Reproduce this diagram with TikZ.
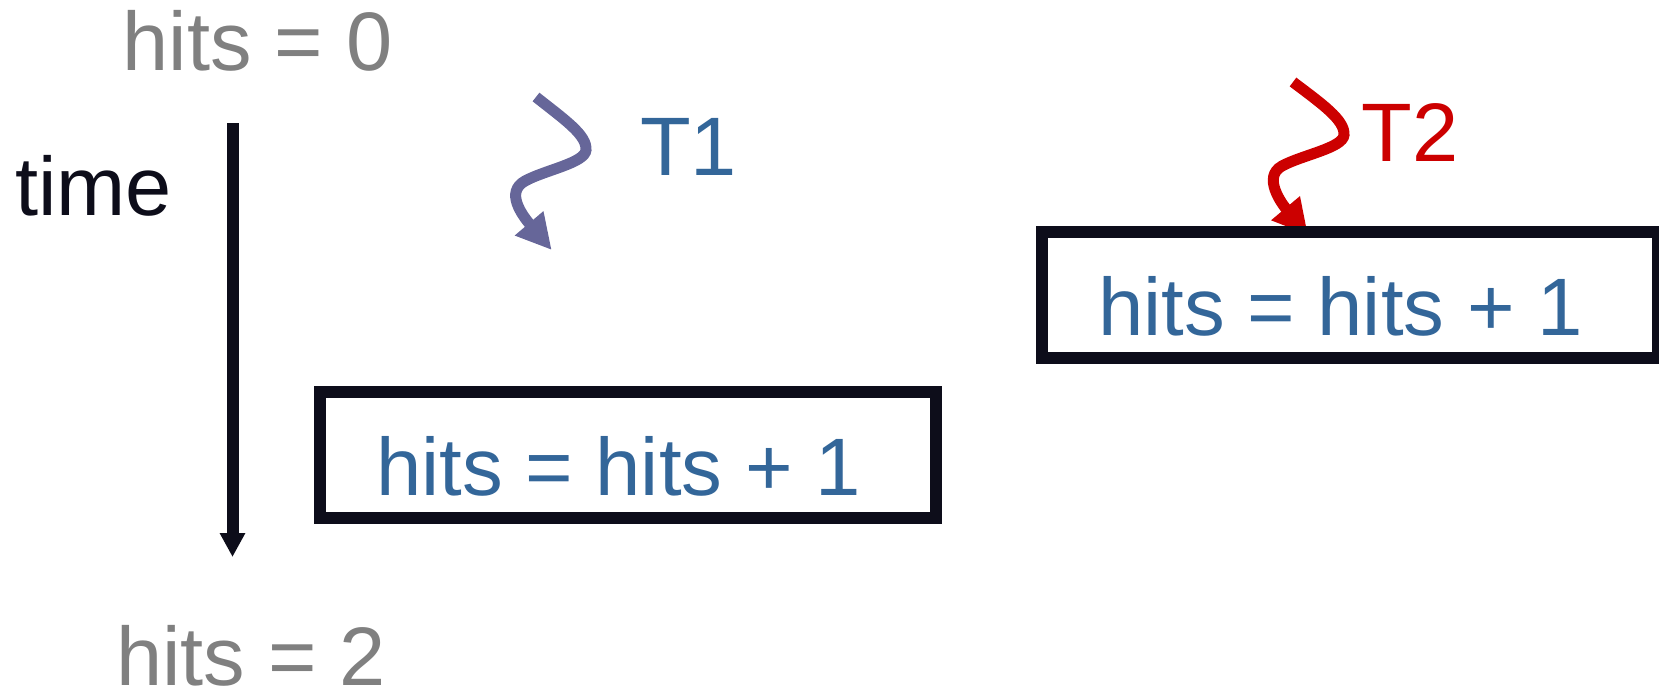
\documentclass[tikz,border=0pt]{standalone}
\usepackage{fontspec}
\setmainfont{Liberation Sans}
\usetikzlibrary{arrows.meta}
\definecolor{grayt}{HTML}{808080}
\definecolor{bluet}{HTML}{336699}
\definecolor{purplea}{HTML}{666699}
\definecolor{redt}{HTML}{CC0000}
\definecolor{inkdark}{HTML}{0D0D1A}
\begin{document}
\begin{tikzpicture}[x=1pt,y=-1pt,
  lbl/.style={anchor=base west,inner sep=0pt,outer sep=0pt,font=\fontsize{83}{90}\selectfont},
  codetxt/.style={lbl,text=bluet,font=\fontsize{81.5}{90}\selectfont},
  codebox/.style={draw=inkdark,line width=12pt,inner sep=0pt,outer sep=0pt,minimum width=616pt,minimum height=126pt},
  timearrow/.style={draw=inkdark,line width=12pt,-{Triangle[width=24pt,length=24pt]}},
  thread/.style={line width=11pt,-{Triangle[width=35pt,length=35pt]}}]
\useasboundingbox (0,0) rectangle (1659,688);
% labels
\node[lbl,text=grayt] (h0) at (122.6,70.7) {hits = 0};
\node[lbl,text=grayt] (h2) at (116,685) {hits = 2};
\node[lbl,text=inkdark] (time) at (15,215) {time};
\node[lbl,text=bluet] (t1) at (640,175) {T1};
\node[lbl,text=redt] (t2) at (1361.6,161) {T2};
% time arrow
\coordinate (ttop) at (232.5,123);
\coordinate (tbot) at (232.5,557);
\draw[timearrow] (ttop) -- (tbot);
% thread arrows
\coordinate (a1s) at (536,97);
\coordinate (a1e) at (551.7,250);
\draw[thread,draw=purplea] (a1s) .. controls (565,120) and (587,135) .. (586,150)
  .. controls (585,163) and (545,170) .. (525,181)
  .. controls (505,192) and (522,215) .. (a1e);
\coordinate (a2s) at (1293,82);
\coordinate (a2e) at (1308,235);
\draw[thread,draw=redt] (a2s) .. controls (1322,104) and (1345,120) .. (1344,135)
  .. controls (1343,148) and (1302,155) .. (1282,166)
  .. controls (1262,177) and (1282,204) .. (a2e);
% boxes
\node[codebox] (b1) at (628,455) {};
\node[codebox] (b2) at (1350,295) {};
\node[codetxt] (c1) at (376,495) {hits = hits + 1};
\node[codetxt] (c2) at (1098,335) {hits = hits + 1};
\end{tikzpicture}
\end{document}
